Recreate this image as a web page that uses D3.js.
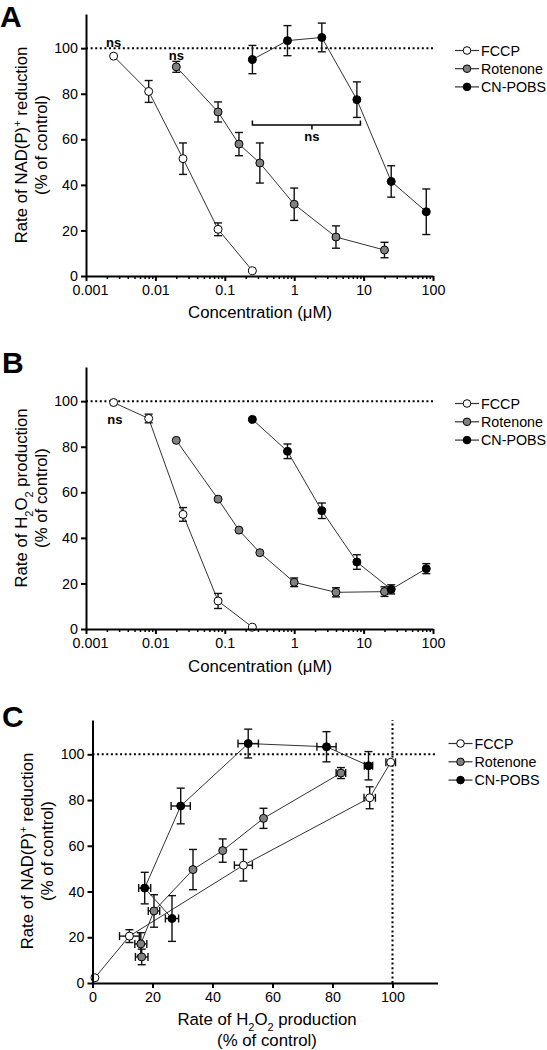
<!DOCTYPE html>
<html><head><meta charset="utf-8">
<script src="https://cdn.jsdelivr.net/npm/d3@7/dist/d3.min.js"></script>
<style>
html,body{margin:0;padding:0;background:#fff;}
svg{display:block;font-family:"Liberation Sans",Arial,sans-serif;}
</style></head>
<body>
<svg id="chart" width="547" height="1050"></svg>
<script>
// ---------------- data ----------------
const seriesNames = ["FCCP", "Rotenone", "CN-POBS"];

const fccpConc = [0.0025, 0.008, 0.025, 0.08, 0.25];
const fccpNad = [96.5, 81, 51.5, 20.5, 2.3];
const fccpNadErr = [1.2, 4.8, 6.9, 2.8, 1.0];
const fccpH2o2 = [99.4, 92.4, 50.3, 12.3, 0.8];
const fccpH2o2Err = [1.6, 1.9, 3.0, 3.3, 0.8];

const rotConc = [0.02, 0.08, 0.16, 0.32, 1, 4, 20];
const rotNad = [91.8, 72, 57.9, 49.6, 31.5, 17.1, 11.4];
const rotNadErr = [2.4, 4.4, 5.1, 8.8, 7.1, 4.9, 3.4];
const rotH2o2 = [82.8, 57, 43.4, 33.5, 20.5, 16.1, 16.4];
const rotH2o2Err = [1.6, 1.2, 1.2, 1.2, 1.9, 2.0, 2.1];

const cnConc = [0.25, 0.8, 2.5, 8, 25, 80];
const cnNad = [95, 103.3, 104.7, 77.4, 41.5, 28.2];
const cnNadErr = [6.2, 6.6, 6.3, 7.8, 6.9, 10];
const cnH2o2 = [92, 78, 51.9, 29.4, 17.4, 26.5];
const cnH2o2Err = [1.4, 3.2, 3.4, 3.2, 2.0, 2.2];

const concTicks = [0.001, 0.01, 0.1, 1, 10, 100];
const concTickLabels = ["0.001", "0.01", "0.1", "1", "10", "100"];
const pctTicks = [0, 20, 40, 60, 80, 100];
const pctTickLabels = ["0", "20", "40", "60", "80", "100"];

const fills = ["#ffffff", "#808080", "#000000"];

// annotations (data units)
const nsA = [{x: 0.0025, y: 102.4}, {x: 0.02, y: 97}];
const bracketA = {x0: 0.25, x1: 9, xm: 1.8, y: 66.3, yEnd: 68.3, yTick: 64.3, yText: 61.3};
const nsB = [{x: 0.0026, y: 92}];

// ---------------- helpers ----------------
const svg = d3.select("#chart");
const FONT = "'Liberation Sans', Arial, sans-serif";
const R = 4;
const TITLE = "16.8px";

function zip(xs, ys, xe, ye) {
  return xs.map((x, i) => ({x: x, y: ys[i], xe: xe ? xe[i] : 0, ye: ye ? ye[i] : 0}));
}

function drawSeries(g, data, x, y, fill, opts) {
  const line = d3.line().x(d => x(d.x)).y(d => y(d.y));
  g.append("path").datum(data).attr("d", line)
    .attr("fill", "none").attr("stroke", "#333").attr("stroke-width", 1);
  const eb = g.append("g").attr("stroke", "#111").attr("stroke-width", 1.4).attr("fill", "none");
  const cap = 4;
  data.forEach(d => {
    const cx = x(d.x), cy = y(d.y);
    if (d.ye > 0 && (cy - y(d.y + d.ye)) > R - 0.2) {
      const y0 = y(d.y - d.ye), y1 = y(d.y + d.ye);
      eb.append("line").attr("x1", cx).attr("x2", cx).attr("y1", y0).attr("y2", y1);
      eb.append("line").attr("x1", cx - cap).attr("x2", cx + cap).attr("y1", y0).attr("y2", y0);
      eb.append("line").attr("x1", cx - cap).attr("x2", cx + cap).attr("y1", y1).attr("y2", y1);
    }
    if (opts && opts.xerr && d.xe > 0 && (x(d.x + d.xe) - cx) > R - 0.2) {
      const x0 = x(d.x - d.xe), x1 = x(d.x + d.xe);
      eb.append("line").attr("x1", x0).attr("x2", x1).attr("y1", cy).attr("y2", cy);
      eb.append("line").attr("x1", x0).attr("x2", x0).attr("y1", cy - cap).attr("y2", cy + cap);
      eb.append("line").attr("x1", x1).attr("x2", x1).attr("y1", cy - cap).attr("y2", cy + cap);
    }
  });
  g.selectAll(null).data(data).enter().append("circle")
    .attr("cx", d => x(d.x)).attr("cy", d => y(d.y)).attr("r", R)
    .attr("fill", fill).attr("stroke", "#000").attr("stroke-width", 1);
}

function styleAxis(ax) {
  ax.select(".domain").attr("stroke", "#000").attr("stroke-width", 2);
  ax.selectAll(".tick line").attr("stroke", "#000").attr("stroke-width", 2);
  ax.selectAll(".tick text").attr("fill", "#000").style("font-size", "14.3px").style("font-family", FONT);
}

function yAxis(g, y, x0) {
  const ax = g.append("g").attr("transform", `translate(${x0},0)`)
    .call(d3.axisLeft(y).tickValues(pctTicks).tickFormat((d, i) => pctTickLabels[i])
      .tickSize(5).tickSizeOuter(0).tickPadding(3));
  styleAxis(ax);
  return ax;
}

function logXAxis(g, x, y0) {
  const minor = [];
  for (let e = -3; e < 2; e++) for (let m = 2; m <= 9; m++) minor.push(m * Math.pow(10, e));
  const axm = g.append("g").attr("transform", `translate(0,${y0})`)
    .call(d3.axisBottom(x).tickValues(minor).tickFormat("").tickSize(3).tickSizeOuter(0));
  axm.select(".domain").remove();
  axm.selectAll(".tick line").attr("stroke", "#000").attr("stroke-width", 1.5);
  const ax = g.append("g").attr("transform", `translate(0,${y0})`)
    .call(d3.axisBottom(x).tickValues(concTicks).tickFormat((d, i) => concTickLabels[i])
      .tickSize(5).tickSizeOuter(0).tickPadding(4));
  styleAxis(ax);
  ax.selectAll(".tick text").filter(d => d === 0.001).attr("dx", 4);
}

function legend(g, lx, ly, dy) {
  seriesNames.forEach((name, i) => {
    const yy = ly + i * dy;
    g.append("line").attr("x1", lx).attr("x2", lx + 24).attr("y1", yy).attr("y2", yy)
      .attr("stroke", "#333").attr("stroke-width", 1.2);
    g.append("circle").attr("cx", lx + 12).attr("cy", yy).attr("r", 3.8)
      .attr("fill", fills[i]).attr("stroke", "#000").attr("stroke-width", 1);
    g.append("text").attr("x", lx + 26).attr("y", yy).attr("dy", "0.36em")
      .style("font-size", "14.3px").style("font-family", FONT).text(name);
  });
}

function panelLetter(txt, x, y) {
  svg.append("text").attr("x", x).attr("y", y).text(txt)
    .style("font-size", "30px").style("font-weight", "bold").style("font-family", FONT);
}

function rotLabel(g, cx, cy, build) {
  const t = g.append("text").attr("transform", `translate(${cx},${cy}) rotate(-90)`)
    .attr("text-anchor", "middle").style("font-size", TITLE).style("font-family", FONT);
  build(t);
}

function dotted(g, x1, y1, x2, y2) {
  g.append("line").attr("x1", x1).attr("x2", x2).attr("y1", y1).attr("y2", y2)
    .attr("stroke", "#000").attr("stroke-width", 2).attr("stroke-dasharray", "2,2.6");
}

function ns(g, x, y) {
  g.append("text").attr("x", x).attr("y", y).attr("dy", "0.35em").attr("text-anchor", "middle")
    .style("font-size", "13px").style("font-weight", "bold").style("font-family", FONT).text("ns");
}

function h2o2(t) {
  t.append("tspan").text("Rate of H");
  t.append("tspan").attr("baseline-shift", "sub").style("font-size", "11px").text("2");
  t.append("tspan").text("O");
  t.append("tspan").attr("baseline-shift", "sub").style("font-size", "11px").text("2");
  t.append("tspan").text(" production");
}
function nadp(t) {
  t.append("tspan").text("Rate of NAD(P)");
  t.append("tspan").attr("baseline-shift", "super").style("font-size", "11px").text("+");
  t.append("tspan").text(" reduction");
}

// ---------------- Panel A ----------------
{
  const g = svg.append("g");
  const x = d3.scaleLog().domain([0.001, 100]).range([86, 433]);
  const y = d3.scaleLinear().domain([0, 115]).range([276, 14]);
  dotted(g, x(0.001), y(100), x(100), y(100));
  drawSeries(g, zip(fccpConc, fccpNad, null, fccpNadErr), x, y, fills[0]);
  drawSeries(g, zip(rotConc, rotNad, null, rotNadErr), x, y, fills[1]);
  drawSeries(g, zip(cnConc, cnNad, null, cnNadErr), x, y, fills[2]);
  yAxis(g, y, 86);
  logXAxis(g, x, 276);
  nsA.forEach(d => ns(g, x(d.x), y(d.y)));
  const b = bracketA;
  g.append("path").attr("fill", "none").attr("stroke", "#000").attr("stroke-width", 1.5)
    .attr("d", `M${x(b.x0)},${y(b.yEnd)}V${y(b.y)}H${x(b.x1)}V${y(b.yEnd)}M${x(b.xm)},${y(b.y)}V${y(b.yTick)}`);
  ns(g, x(b.xm), y(b.yText));
  rotLabel(g, 26.5, 145, nadp);
  rotLabel(g, 46.5, 145, t => t.text("(% of control)"));
  g.append("text").attr("x", 260).attr("y", 318).attr("text-anchor", "middle")
    .style("font-size", TITLE).style("font-family", FONT).text("Concentration (μM)");
  legend(g, 455, 50.5, 18.2);
  panelLetter("A", 0, 27);
}

// ---------------- Panel B ----------------
{
  const g = svg.append("g");
  const x = d3.scaleLog().domain([0.001, 100]).range([86, 433]);
  const y = d3.scaleLinear().domain([0, 115]).range([629, 367]);
  dotted(g, x(0.001), y(100), x(100), y(100));
  drawSeries(g, zip(fccpConc, fccpH2o2, null, fccpH2o2Err), x, y, fills[0]);
  drawSeries(g, zip(rotConc, rotH2o2, null, rotH2o2Err), x, y, fills[1]);
  drawSeries(g, zip(cnConc, cnH2o2, null, cnH2o2Err), x, y, fills[2]);
  yAxis(g, y, 86);
  logXAxis(g, x, 629);
  nsB.forEach(d => ns(g, x(d.x), y(d.y)));
  rotLabel(g, 26.5, 498, h2o2);
  rotLabel(g, 46.5, 498, t => t.text("(% of control)"));
  g.append("text").attr("x", 260).attr("y", 672).attr("text-anchor", "middle")
    .style("font-size", TITLE).style("font-family", FONT).text("Concentration (μM)");
  legend(g, 455, 403.5, 18.3);
  panelLetter("B", 2, 373);
}

// ---------------- Panel C ----------------
{
  const g = svg.append("g");
  const x = d3.scaleLinear().domain([0, 115]).range([92.5, 437.5]);
  const y = d3.scaleLinear().domain([0, 115]).range([983, 720]);
  dotted(g, x(0), y(100), x(115), y(100));
  dotted(g, x(100), y(0), x(100), y(115));
  drawSeries(g, zip(fccpH2o2, fccpNad, fccpH2o2Err, fccpNadErr), x, y, fills[0], {xerr: true});
  drawSeries(g, zip(rotH2o2, rotNad, rotH2o2Err, rotNadErr), x, y, fills[1], {xerr: true});
  drawSeries(g, zip(cnH2o2, cnNad, cnH2o2Err, cnNadErr), x, y, fills[2], {xerr: true});
  yAxis(g, y, 92.5);
  const ax = g.append("g").attr("transform", "translate(0,983)")
    .call(d3.axisBottom(x).tickValues(pctTicks).tickFormat((d, i) => pctTickLabels[i])
      .tickSize(5).tickSizeOuter(0).tickPadding(4));
  styleAxis(ax);
  rotLabel(g, 33, 851, nadp);
  rotLabel(g, 53, 851, t => t.text("(% of control)"));
  const xt = g.append("text").attr("x", 267).attr("y", 1025).attr("text-anchor", "middle")
    .style("font-size", TITLE).style("font-family", FONT);
  h2o2(xt);
  g.append("text").attr("x", 267).attr("y", 1046).attr("text-anchor", "middle")
    .style("font-size", TITLE).style("font-family", FONT).text("(% of control)");
  legend(g, 448.5, 743.5, 18.3);
  panelLetter("C", 2, 727);
}
</script>
</body></html>
